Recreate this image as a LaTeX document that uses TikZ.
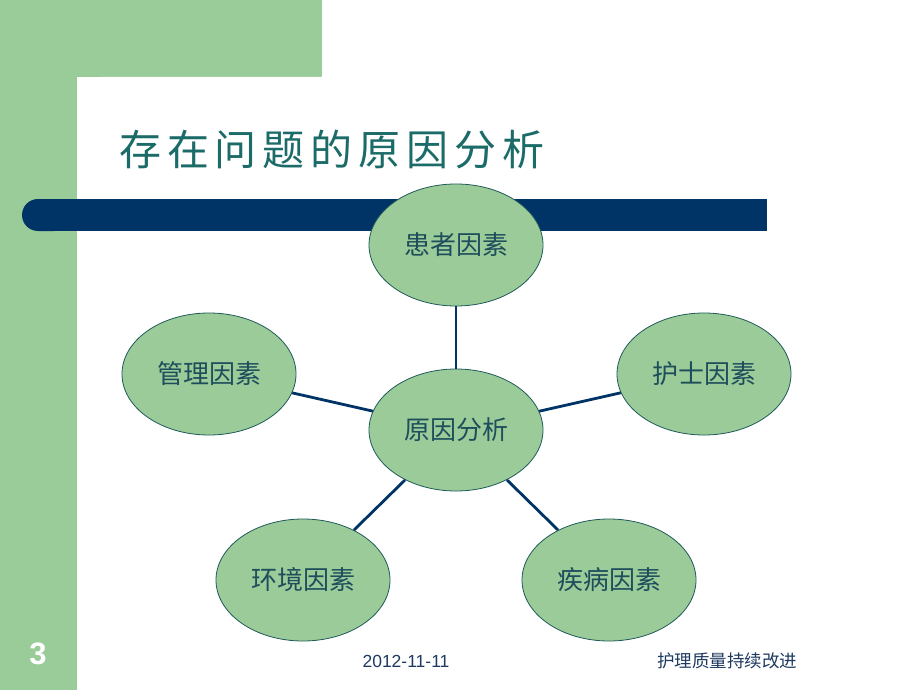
\documentclass[tikz,border=0pt]{standalone}
\usepackage{fontspec}
\setmainfont{Liberation Sans}
\newfontfamily\cjk{Noto Sans CJK SC}
\newfontfamily\cjktitle[LetterSpace=14.0]{Noto Sans CJK SC}
\usetikzlibrary{shapes.geometric}
\definecolor{bandgreen}{HTML}{99CC99}
\definecolor{ellfill}{HTML}{9BCB98}
\definecolor{ellline}{HTML}{1F5A5A}
\definecolor{navy}{HTML}{003366}
\definecolor{titleteal}{HTML}{1B6B68}
\definecolor{elltext}{HTML}{1E4E5C}
\definecolor{foot}{HTML}{1F3A60}
\tikzset{
  factor/.style={ellipse, draw=ellline, line width=0.8pt, fill=ellfill,
    minimum width=174pt, minimum height=122pt, inner sep=0pt,
    text=elltext, font=\cjk\fontsize{26pt}{30pt}\selectfont},
  conn/.style={draw=navy, line width=2.8pt},
}
\begin{document}
\begin{tikzpicture}[x=1pt,y=-1pt]
\useasboundingbox (0,0) rectangle (920,690);
\fill[white] (0,0) rectangle (920,690);
% green decoration
\fill[bandgreen] (0,0) rectangle (322,77);
\fill[bandgreen] (0,0) rectangle (77,690);
\fill[white, rounded corners=25pt] (77,77) rectangle (960,740);
% navy bar
\fill[navy, rounded corners=16pt] (22,199) rectangle (70,231);
\fill[navy] (50,199) rectangle (767,231);
% title
\node[anchor=west, inner sep=0pt, text=titleteal, font=\cjktitle\fontsize{42pt}{46pt}\selectfont] (title) at (119,150) {存在问题的原因分析};
% ellipses
\node[factor] (hz) at (456,245) {患者因素};
\node[factor] (hs) at (704,374) {护士因素};
\node[factor] (gl) at (209,374) {管理因素};
\node[factor] (hj) at (303,580) {环境因素};
\node[factor] (jb) at (609,580) {疾病因素};
\node[factor] (c) at (456,430) {原因分析};
% connectors
\draw[conn] (c) -- (hz);
\draw[conn] (c) -- (hs);
\draw[conn] (c) -- (gl);
\draw[conn] (c) -- (hj);
\draw[conn] (c) -- (jb);
% footer
\node[inner sep=0pt, text=white, font=\bfseries\fontsize{31pt}{34pt}\selectfont] (num) at (38,654) {3};
\node[inner sep=0pt, text=foot, font=\fontsize{17.5pt}{20pt}\selectfont] (date) at (406,661) {2012-11-11};
\node[inner sep=0pt, text=foot, font=\cjk\fontsize{17.5pt}{20pt}\selectfont] (ft) at (727,661) {护理质量持续改进};
\end{tikzpicture}
\end{document}
